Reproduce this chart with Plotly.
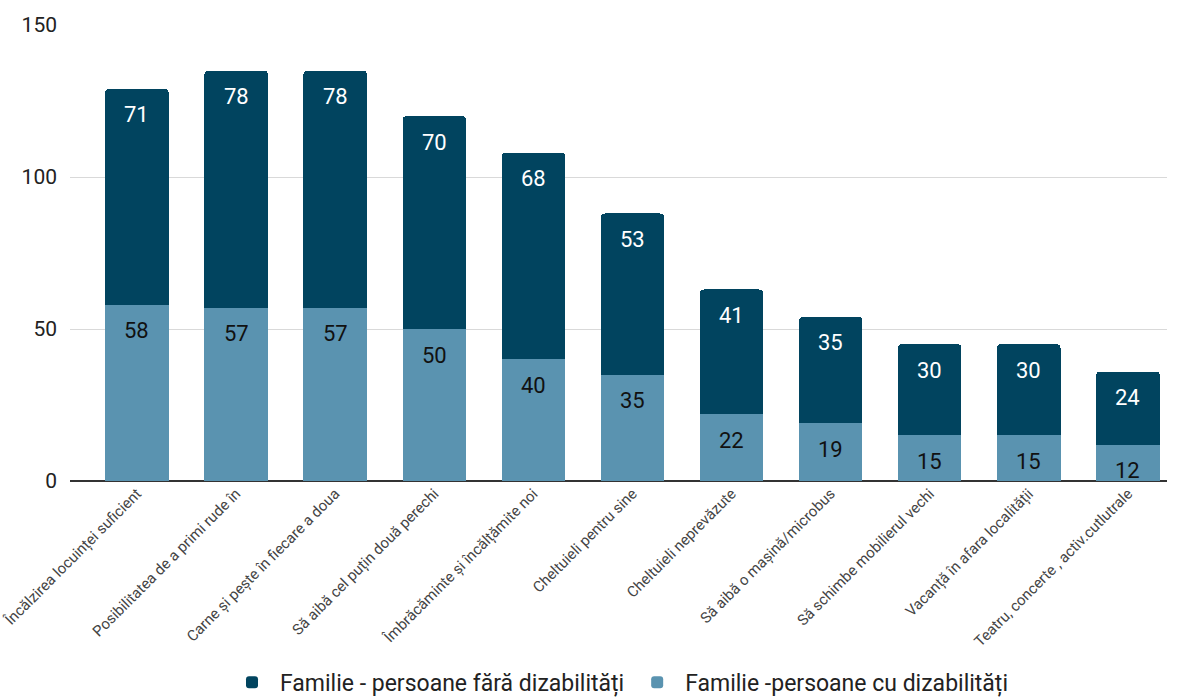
import plotly.graph_objects as go

categories = [
    "Încălzirea locuinței suficient",
    "Posibilitatea de a primi rude în",
    "Carne și pește în fiecare a doua",
    "Să aibă cel puțin două perechi",
    "Îmbrăcăminte și încălțămite noi",
    "Cheltuieli pentru sine",
    "Cheltuieli neprevăzute",
    "Să aibă o mașină/microbus",
    "Să schimbe mobilierul vechi",
    "Vacanță în afara localității",
    "Teatru, concerte , activ.cutlutrale",
]
cu_dizabilitati = [58, 57, 57, 50, 40, 35, 22, 19, 15, 15, 12]
fara_dizabilitati = [71, 78, 78, 70, 68, 53, 41, 35, 30, 30, 24]

name_fara = "Familie - persoane fără dizabilități"
name_cu = "Familie -persoane cu dizabilități"
y_ticks = [0, 50, 100, 150]

DARK = "#01445f"
LIGHT = "#5a93b0"
FONT = "Roboto"

fig = go.Figure()
fig.add_trace(go.Bar(x=categories, y=cu_dizabilitati, name=name_cu,
                     marker=dict(color=LIGHT, line=dict(width=0))))
fig.add_trace(go.Bar(x=categories, y=fara_dizabilitati, name=name_fara,
                     marker=dict(color=DARK, line=dict(width=0))))

# value labels just below the top of each segment
for cat, lo, hi in zip(categories, cu_dizabilitati, fara_dizabilitati):
    fig.add_annotation(x=cat, y=lo, text=str(lo), showarrow=False, yshift=-26,
                       font=dict(family=FONT, size=22, color="#111111"))
    fig.add_annotation(x=cat, y=lo + hi, text=str(hi), showarrow=False, yshift=-26,
                       font=dict(family=FONT, size=22, color="#ffffff"))

fig.update_layout(
    width=1181, height=697,
    barmode="stack", bargap=0.36, barcornerradius=4,
    plot_bgcolor="white", paper_bgcolor="white",
    margin=dict(l=70, r=14, t=25, b=216, autoexpand=False),
    font=dict(family=FONT, color="#222222"),
    legend=dict(orientation="h", x=0.5, xanchor="center", y=0.021, yref="container",
                yanchor="middle", traceorder="reversed", itemwidth=46,
                font=dict(family=FONT, size=23, color="#222222")),
    xaxis=dict(tickangle=-45, tickfont=dict(family=FONT, size=15, color="#444444"),
               range=[-0.676, 10.394], showgrid=False, ticks="", showline=False,
               automargin=False),
    yaxis=dict(range=[0, 150], tickvals=y_ticks, showgrid=True, gridcolor="#d9d9d9",
               gridwidth=1, zeroline=True, zerolinecolor="#333333", zerolinewidth=2,
               tickfont=dict(family=FONT, size=21, color="#222222"),
               ticklabelstandoff=12, automargin=False),
)

fig.write_html("out.html")
